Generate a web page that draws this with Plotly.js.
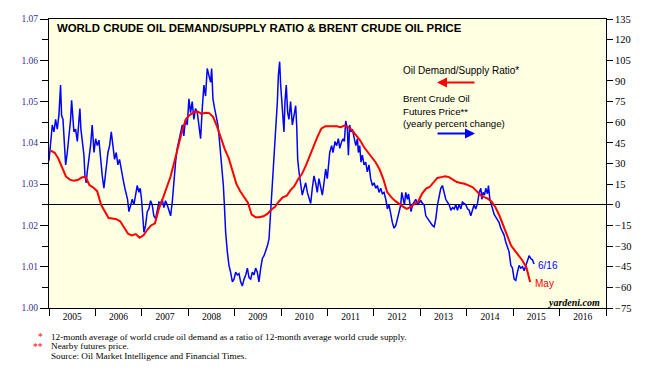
<!DOCTYPE html>
<html>
<head>
<meta charset="utf-8">
<script src="https://cdn.plot.ly/plotly-3.0.1.min.js"></script>
<style>
  html, body { margin: 0; padding: 0; background: #ffffff; }
  #chart { width: 652px; height: 368px; }
</style>
</head>
<body>
<div id="chart"></div>
<script>
// Oil demand/supply ratio (12-month average), monthly Jan 2005 - May 2015 (left axis)
const ratioStart = [2005, 1];
const ratioValues = [
  1.0381,1.0376,1.0362,1.0340,1.0318,1.0311,1.0308,1.0310,1.0316,1.0318,1.0298,1.0292,
  1.0283,1.0250,1.0233,1.0218,1.0217,1.0215,1.0210,1.0195,1.0180,1.0176,1.0179,1.0170,
  1.0176,1.0190,1.0200,1.0205,1.0240,1.0265,1.0292,1.0318,1.0355,1.0395,1.0430,1.0458,
  1.0468,1.0474,1.0476,1.0470,1.0473,1.0472,1.0463,1.0440,1.0410,1.0385,1.0363,1.0330,
  1.0300,1.0282,1.0270,1.0255,1.0226,1.0220,1.0220,1.0222,1.0228,1.0238,1.0245,1.0258,
  1.0268,1.0272,1.0285,1.0295,1.0312,1.0325,1.0345,1.0370,1.0390,1.0415,1.0435,1.0440,
  1.0440,1.0440,1.0440,1.0438,1.0442,1.0438,1.0430,1.0418,1.0406,1.0390,1.0378,1.0365,
  1.0353,1.0336,1.0313,1.0281,1.0269,1.0260,1.0252,1.0246,1.0240,1.0244,1.0252,1.0258,
  1.0277,1.0289,1.0293,1.0305,1.0315,1.0317,1.0319,1.0317,1.0311,1.0305,1.0303,1.0301,
  1.0297,1.0293,1.0285,1.0274,1.0269,1.0265,1.0258,1.0244,1.0224,1.0200,1.0176,1.0152,
  1.0139,1.0127,1.0115,1.0099,1.0063
];

// Brent crude oil futures price, yearly percent change (right axis); dates as decimal years
const brentTimes = [
  2005.000,2005.036,2005.072,2005.108,2005.144,2005.180,2005.216,2005.251,2005.273,2005.302,
  2005.323,2005.359,2005.395,2005.431,2005.467,2005.489,2005.517,2005.539,2005.575,2005.611,
  2005.647,2005.668,2005.690,2005.718,2005.754,2005.776,2005.805,2005.826,2005.862,2005.898,
  2005.934,2005.970,2006.006,2006.042,2006.078,2006.114,2006.149,2006.185,2006.207,2006.236,
  2006.272,2006.307,2006.343,2006.379,2006.415,2006.451,2006.487,2006.523,2006.559,2006.595,
  2006.638,2006.667,2006.695,2006.724,2006.760,2006.796,2006.832,2006.868,2006.904,2006.940,
  2006.968,2006.997,2007.026,2007.047,2007.083,2007.119,2007.155,2007.191,2007.227,2007.263,
  2007.299,2007.335,2007.371,2007.407,2007.443,2007.478,2007.514,2007.550,2007.586,2007.622,
  2007.658,2007.694,2007.730,2007.766,2007.802,2007.838,2007.874,2007.909,2007.945,2007.981,
  2008.017,2008.053,2008.089,2008.125,2008.161,2008.197,2008.233,2008.269,2008.305,2008.341,
  2008.376,2008.412,2008.448,2008.484,2008.506,2008.534,2008.570,2008.606,2008.642,2008.664,
  2008.700,2008.721,2008.736,2008.757,2008.779,2008.807,2008.843,2008.879,2008.915,2008.951,
  2008.987,2009.023,2009.059,2009.095,2009.131,2009.167,2009.203,2009.239,2009.274,2009.310,
  2009.346,2009.382,2009.418,2009.454,2009.490,2009.526,2009.562,2009.598,2009.634,2009.670,
  2009.706,2009.741,2009.777,2009.813,2009.849,2009.885,2009.921,2009.943,2009.971,2009.993,
  2010.014,2010.043,2010.065,2010.086,2010.115,2010.144,2010.172,2010.208,2010.244,2010.280,
  2010.316,2010.338,2010.359,2010.388,2010.424,2010.460,2010.496,2010.532,2010.568,2010.603,
  2010.639,2010.675,2010.711,2010.747,2010.783,2010.819,2010.855,2010.891,2010.927,2010.963,
  2010.999,2011.022,2011.050,2011.093,2011.122,2011.165,2011.201,2011.237,2011.266,2011.309,
  2011.338,2011.366,2011.395,2011.431,2011.453,2011.481,2011.510,2011.539,2011.575,2011.611,
  2011.647,2011.668,2011.697,2011.726,2011.754,2011.790,2011.826,2011.862,2011.898,2011.934,
  2011.970,2012.006,2012.042,2012.078,2012.114,2012.149,2012.185,2012.221,2012.257,2012.293,
  2012.329,2012.365,2012.401,2012.437,2012.473,2012.509,2012.545,2012.580,2012.602,2012.631,
  2012.659,2012.688,2012.724,2012.746,2012.774,2012.803,2012.832,2012.868,2012.904,2012.940,
  2012.976,2013.011,2013.047,2013.083,2013.119,2013.155,2013.191,2013.227,2013.263,2013.299,
  2013.335,2013.371,2013.407,2013.443,2013.478,2013.514,2013.550,2013.586,2013.622,2013.658,
  2013.694,2013.730,2013.766,2013.802,2013.838,2013.874,2013.909,2013.945,2013.981,2014.017,
  2014.053,2014.089,2014.125,2014.161,2014.197,2014.233,2014.269,2014.305,2014.327,2014.356,
  2014.384,2014.412,2014.448,2014.470,2014.499,2014.527,2014.556,2014.592,2014.628,2014.664,
  2014.700,2014.736,2014.772,2014.808,2014.843,2014.879,2014.915,2014.951,2014.987,2015.023,
  2015.059,2015.095,2015.131,2015.167,2015.203,2015.239,2015.274,2015.310,2015.346,2015.382,
  2015.418,2015.454
];
const brentChange = [
  32,45,58,53,62,55,65,87,65,62,
  50,29,38,50,62,76,60,53,55,46,
  62,70,55,48,36,21,16,24,33,43,
  58,38,48,43,47,33,21,12,19,31,
  38,43,53,43,33,38,29,33,24,19,
  12,7,4,-5,0,4,0,9,14,9,
  12,4,-10,-20,-15,-5,-3,3,0,-8,
  -10,-5,2,1,4,-2,3,0,-4,-8,
  2,19,31,41,46,53,58,50,62,58,
  77,67,75,62,70,67,58,48,70,87,
  79,99,94,89,99,77,70,65,58,50,
  38,31,26,14,0,-20,-34,-44,-49,-56,
  -54,-49,-51,-50,-56,-59,-54,-51,-46,-53,
  -54,-49,-51,-46,-49,-56,-46,-39,-37,-34,
  -30,-25,-5,16,33,50,75,94,104,87,
  75,62,53,75,87,67,62,75,58,65,
  72,58,33,24,14,7,12,16,9,4,
  1,12,21,16,9,19,12,7,16,26,
  19,29,38,43,38,46,43,48,41,46,
  48,46,61,55,36,58,53,55,50,43,
  48,38,43,31,36,29,31,24,29,19,
  14,16,12,14,9,12,8,9,4,-3,
  0,-8,-13,-17,-15,-10,-5,0,9,4,
  0,9,4,8,0,-5,0,2,4,0,
  2,3,1,0,-8,-10,-11,-13,-15,-16,
  -10,0,7,12,14,9,4,2,0,-4,
  -2,-3,0,-4,0,-3,2,1,0,-3,
  -4,-8,-4,0,-3,1,9,12,4,9,
  7,12,8,14,4,1,-3,-7,-9,-11,
  -13,-17,-20,-22,-27,-30,-34,-44,-46,-54,
  -55,-49,-44,-46,-45,-48,-44,-40,-37,-39,
  -40,-43
];

const yearTicksStart = '2005-01-01';
const xRange = ['2005-01-01', '2017-01-01'];

function decToDate(t) {
  const y = Math.floor(t);
  const s = Date.UTC(y, 0, 1), e = Date.UTC(y + 1, 0, 1);
  return new Date(s + (t - y) * (e - s)).toISOString().slice(0, 10);
}
const ratioDates = ratioValues.map((v, i) => {
  const m = ratioStart[1] - 1 + i;
  const y = ratioStart[0] + Math.floor(m / 12);
  const mm = (m % 12) + 1;
  return y + '-' + String(mm).padStart(2, '0') + '-15';
});
const brentDates = brentTimes.map(decToDate);

const L = 49, R = 606, T = 19, B = 308;
const px = x => (x - L) / (R - L);
const py = y => (B - y) / (B - T);

const sans = 'Liberation Sans, Arial, sans-serif';
const serif = 'Liberation Serif, Times New Roman, serif';

const traces = [
  {
    x: brentDates, y: brentChange, type: 'scatter', mode: 'lines',
    yaxis: 'y', line: { color: '#0000ff', width: 1.5 }, hoverinfo: 'skip'
  },
  {
    x: ratioDates, y: ratioValues, type: 'scatter', mode: 'lines',
    yaxis: 'y2', line: { color: '#ff0000', width: 2 }, hoverinfo: 'skip'
  }
];

const ann = [
  { text: '<b>WORLD CRUDE OIL DEMAND/SUPPLY RATIO &amp; BRENT CRUDE OIL PRICE</b>',
    x: px(56), y: py(28), xanchor: 'left', yanchor: 'middle',
    font: { family: sans, size: 11.4, color: '#000' } },
  { text: 'Oil Demand/Supply Ratio*', x: px(402), y: py(70), xanchor: 'left', yanchor: 'middle',
    font: { family: sans, size: 10, color: '#000' } },
  { text: '', x: px(437), y: py(82.5), showarrow: true, ax: 38, ay: 0,
    arrowhead: 2, arrowsize: 1, arrowwidth: 2, arrowcolor: '#ff0000' },
  { text: 'Brent Crude Oil<br>Futures Price**<br>(yearly percent change)',
    x: px(402), y: py(111.3), xanchor: 'left', yanchor: 'middle', align: 'left',
    font: { family: sans, size: 9.7, color: '#000' } },
  { text: '', x: px(475), y: py(133.5), showarrow: true, ax: -38, ay: 0,
    arrowhead: 2, arrowsize: 1, arrowwidth: 2, arrowcolor: '#0000ff' },
  { text: '6/16', x: px(537), y: py(265.5), xanchor: 'left', yanchor: 'middle',
    font: { family: sans, size: 10, color: '#0000ff' } },
  { text: 'May', x: px(534), y: py(283), xanchor: 'left', yanchor: 'middle',
    font: { family: sans, size: 10, color: '#ff0000' } },
  { text: '<b><i>yardeni.com</i></b>', x: px(601), y: py(302), xanchor: 'right', yanchor: 'middle',
    font: { family: serif, size: 10, color: '#000' } },
  { text: '*', x: px(44), y: py(337.5), xanchor: 'right', yanchor: 'middle',
    font: { family: serif, size: 9.5, color: '#ff0000' } },
  { text: '12-month average of world crude oil demand as a ratio of 12-month average world crude supply.',
    x: px(50), y: py(337), xanchor: 'left', yanchor: 'middle',
    font: { family: serif, size: 9.2, color: '#000' } },
  { text: '**', x: px(44), y: py(346.5), xanchor: 'right', yanchor: 'middle',
    font: { family: serif, size: 9.5, color: '#ff0000' } },
  { text: 'Nearby futures price.', x: px(50), y: py(346), xanchor: 'left', yanchor: 'middle',
    font: { family: serif, size: 9.2, color: '#000' } },
  { text: 'Source: Oil Market Intelligence and Financial Times.', x: px(50), y: py(355.5),
    xanchor: 'left', yanchor: 'middle', font: { family: serif, size: 9.2, color: '#000' } }
].map(a => Object.assign({ xref: 'paper', yref: 'paper', showarrow: false,
  axref: 'pixel', ayref: 'pixel', borderpad: 0 }, a));

const layout = {
  width: 652, height: 368,
  margin: { l: L, r: 652 - R, t: T, b: 368 - B, pad: 0 },
  paper_bgcolor: '#ffffff',
  plot_bgcolor: '#ffffe2',
  showlegend: false,
  xaxis: {
    type: 'date', range: xRange, tick0: yearTicksStart, dtick: 'M12',
    ticklabelmode: 'period', tickformat: '%Y',
    ticks: 'outside', ticklen: 7, tickwidth: 1, tickcolor: '#000',
    ticklabelstandoff: -7,
    showline: true, mirror: true, linecolor: '#000', linewidth: 1,
    showgrid: false, zeroline: false, automargin: false,
    tickfont: { family: serif, size: 9.5, color: '#000' }
  },
  yaxis: {
    side: 'right', range: [-75, 135], dtick: 15, tick0: 0,
    ticks: 'outside', ticklen: 6, tickwidth: 1, tickcolor: '#000',
    showline: true, linecolor: '#000', linewidth: 1,
    showgrid: false, zeroline: true, zerolinecolor: '#000', zerolinewidth: 1,
    automargin: false,
    tickfont: { family: serif, size: 10.5, color: '#000' }
  },
  yaxis2: {
    overlaying: 'y', side: 'left', range: [1.00, 1.07], dtick: 0.01, tick0: 1.0,
    tickformat: '.2f',
    ticks: 'outside', ticklen: 8, tickwidth: 1, tickcolor: '#000',
    minor: { dtick: 0.005, ticks: 'outside', ticklen: 6, tickcolor: '#000', showgrid: false },
    showline: true, linecolor: '#000', linewidth: 1,
    showgrid: false, zeroline: false, automargin: false,
    tickfont: { family: serif, size: 9.5, color: '#3d2f88' }
  },
  annotations: ann
};

Plotly.newPlot('chart', traces, layout, { staticPlot: true, displayModeBar: false });
</script>
</body>
</html>
